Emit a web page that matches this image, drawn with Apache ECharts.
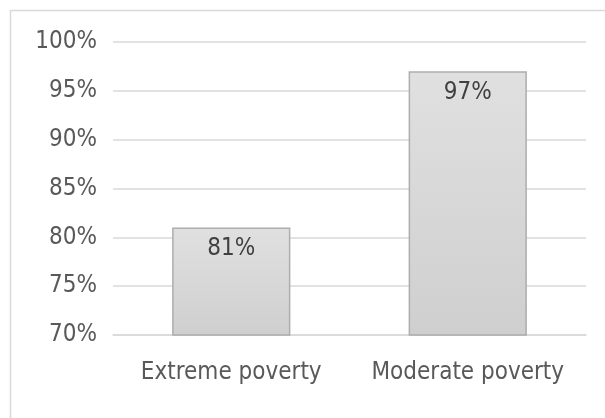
<!DOCTYPE html>
<html>
<head>
<meta charset="utf-8">
<script src="https://cdn.jsdelivr.net/npm/echarts@6/dist/echarts.min.js"></script>
<style>html,body{margin:0;padding:0;background:#fff}#c{width:605px;height:418px}</style>
</head>
<body>
<div id="c"></div>
<script>
var categories = ['Extreme poverty', 'Moderate poverty'];
var values = [81, 97];
var yMin = 70, yMax = 100, yStep = 5;
var FONT = '"DejaVu Sans Condensed", "DejaVu Sans", sans-serif';

var chart = echarts.init(document.getElementById('c'), null, {renderer: 'canvas'});
chart.setOption({
  animation: false,
  backgroundColor: '#ffffff',
  graphic: [{
    type: 'rect', left: 8, top: 8, silent: true,
    shape: {width: 640, height: 440},
    style: {fill: 'none', stroke: '#d9d9d9', lineWidth: 1.5}
  }],
  grid: {left: 113, right: 19, top: 42, bottom: 83, containLabel: false},
  xAxis: {
    type: 'category',
    data: categories,
    axisLine: {show: true, lineStyle: {color: '#d9d9d9', width: 1.5}},
    axisTick: {show: false},
    axisLabel: {color: '#595959', fontSize: 24, fontFamily: FONT, margin: 26, interval: 0}
  },
  yAxis: {
    type: 'value',
    min: yMin, max: yMax, interval: yStep,
    axisLine: {show: false},
    axisTick: {show: false},
    splitLine: {lineStyle: {color: '#d9d9d9', width: 1.5}},
    axisLabel: {color: '#595959', fontSize: 24, fontFamily: FONT, margin: 16,
      formatter: function (v) { return v + '%'; }}
  },
  series: [{
    type: 'bar',
    data: values,
    barWidth: '50%',
    itemStyle: {
      color: new echarts.graphic.LinearGradient(0, 0, 0, 1, [
        {offset: 0, color: '#e0e0e0'},
        {offset: 1, color: '#cfcfcf'}
      ]),
      borderColor: '#adadad',
      borderWidth: 1.5
    },
    label: {
      show: true, position: 'insideTop', distance: 9,
      color: '#404040', fontSize: 24, fontFamily: FONT,
      formatter: function (p) { return p.value + '%'; }
    }
  }]
});
</script>
</body>
</html>
